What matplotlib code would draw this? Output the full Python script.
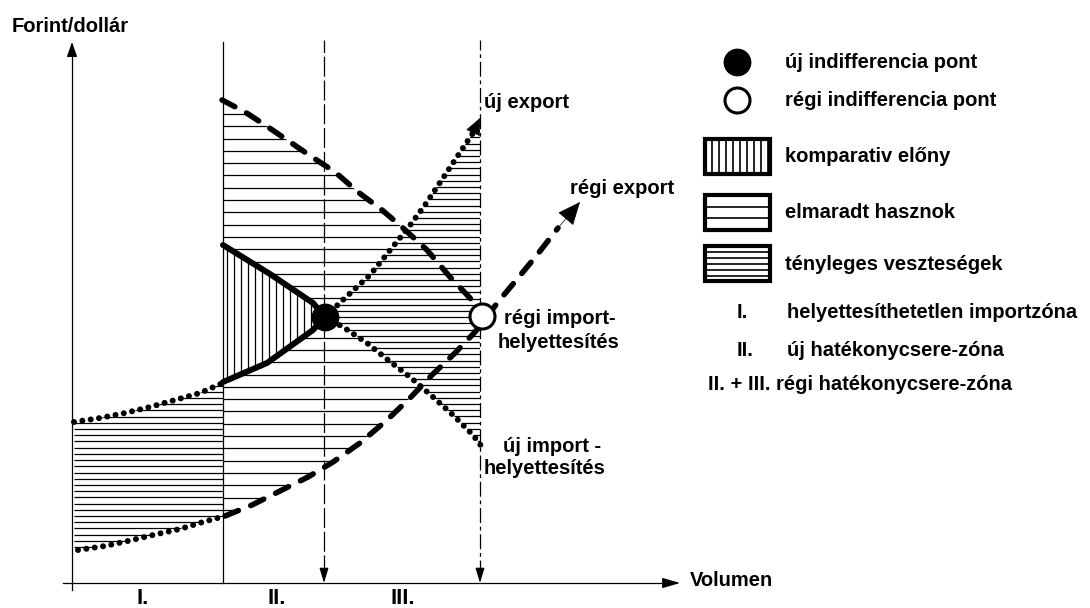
import numpy as np
import matplotlib
matplotlib.use('Agg')
import matplotlib.pyplot as plt
from matplotlib.patches import Polygon, Rectangle

plt.rcParams['font.family'] = ['Liberation Sans', 'DejaVu Sans']
plt.rcParams['font.weight'] = 'bold'

# ---------------- data (volume, forint/dollar) ----------------
zone_bounds = [151, 252, 408]            # start of II, start of III, end of III
zone_labels = ['I.', 'II.', 'III.']
zone_label_x = [71, 205, 331]

old_import_x = [150, 173, 196, 218, 240, 263, 286, 310, 331, 355, 378, 398, 410]
old_import_y = [483, 471, 456, 441, 426, 411, 391, 373, 355, 333, 306, 285, 269]

old_export_x = [153, 180, 210, 236, 261, 288, 315, 338, 360, 383, 403, 414, 426, 446, 465, 486, 508]
old_export_y = [67, 78, 93, 106, 121, 140, 163, 185, 208, 230, 251, 265, 281, 305, 328, 355, 381]

zone1_low_x = [6, 33, 56, 81, 108, 131, 153]
zone1_low_y = [33, 37, 42, 48, 54, 61, 67]
zone1_up_x = [2, 28, 53, 78, 103, 128, 153]
zone1_up_y = [161, 165, 170, 176, 183, 190, 201]

solid_up_x = [151, 198, 241, 253]
solid_up_y = [338, 309, 280, 266]
solid_low_x = [151, 195, 241, 253]
solid_low_y = [201, 220, 253, 266]

new_export_x = [253, 273, 298, 336, 353, 371, 401, 408]
new_export_y = [266, 285, 308, 355, 378, 405, 450, 465]
new_import_x = [253, 271, 295, 316, 338, 361, 381, 401, 410]
new_import_y = [266, 256, 240, 223, 206, 186, 168, 148, 136]

new_point = (253, 266)
old_point = (410, 267)

legend_labels = ['új indifferencia pont', 'régi indifferencia pont', 'komparativ előny',
                 'elmaradt hasznok', 'tényleges veszteségek',
                 'helyettesíthetetlen importzóna', 'új hatékonycsere-zóna',
                 'régi hatékonycsere-zóna']
legend_keys = ['I.', 'II.', 'II. + III.']

# ---------------- figure ----------------
fig = plt.figure(figsize=(10.9, 6.08), dpi=100)
ax = fig.add_axes([0, 0, 1, 1])
ax.set_xlim(-72, 1018)
ax.set_ylim(-25, 583)
ax.axis('off')

K = 'black'
FS = 14.5


def chain(*pairs):
    xs, ys = [], []
    for px, py in pairs:
        if xs and px[0] == xs[-1]:
            px, py = px[1:], py[1:]
        xs += list(px)
        ys += list(py)
    return np.array(xs, float), np.array(ys, float)


def f(xs_, ys_):
    return lambda x: np.interp(x, xs_, ys_)


oi = f(old_import_x, old_import_y)
oe = f(old_export_x, old_export_y)
upper_chain = f(*chain((solid_up_x, solid_up_y), (new_export_x, new_export_y)))
lower_chain = f(*chain((solid_low_x, solid_low_y), (new_import_x, new_import_y)))
z1u = f(zone1_up_x, zone1_up_y)
z1l = f(zone1_low_x, zone1_low_y)
ne = f(new_export_x, new_export_y)
ni = f(new_import_x, new_import_y)
su = f(solid_up_x, solid_up_y)
sl = f(solid_low_x, solid_low_y)


def crossing(a, b, x0, x1):
    xs = np.linspace(x0, x1, 4000)
    d = a(xs) - b(xs)
    return xs[np.argmax(d <= 0)]


def region(x0, x1, top, bot):
    xs = np.linspace(x0, x1, 300)
    pts = np.column_stack([np.r_[xs, xs[::-1]], np.r_[top(xs), bot(xs)[::-1]]])
    p = Polygon(pts, closed=True, facecolor='none', edgecolor='none')
    ax.add_patch(p)
    return p, pts


def hhatch(x0, x1, top, bot, step, lw=0.9):
    p, pts = region(x0, x1, top, bot)
    ys = np.arange(pts[:, 1].min() + step / 2, pts[:, 1].max(), step)
    lc = ax.hlines(ys, x0, x1, colors=K, lw=lw)
    lc.set_clip_path(p)


def vhatch(x0, x1, top, bot, step, lw=0.9):
    p, pts = region(x0, x1, top, bot)
    xs = np.arange(x0 + step / 2, x1, step)
    lc = ax.vlines(xs, pts[:, 1].min(), pts[:, 1].max(), colors=K, lw=lw)
    lc.set_clip_path(p)


xII, xIII, xEnd = zone_bounds
xc1 = crossing(oi, upper_chain, xII, xEnd)
xc2 = crossing(lower_chain, oe, xII, xEnd)

# hatched areas
hhatch(zone1_up_x[0], xII, z1u, z1l, 6.2)            # zone I, actual losses
hhatch(xII, xc1, oi, upper_chain, 12.3)               # forgone profits, upper
hhatch(xII, xc2, lower_chain, oe, 12.3)               # forgone profits, lower
hhatch(xIII, xEnd, ne, ni, 6.2)                       # zone III, actual losses
vhatch(xII, xIII, su, sl, 7.0)                        # comparative advantage

# axes
ax.plot([0, 0], [-7, 533], color=K, lw=0.9)
ax.annotate('', xy=(0, 541), xytext=(0, 530),
            arrowprops=dict(arrowstyle='-|>,head_length=1.0,head_width=0.35',
                            mutation_scale=9, color=K, lw=0.9, shrinkA=0, shrinkB=0))
ax.plot([-9, 600], [0, 0], color=K, lw=0.9)
ax.annotate('', xy=(608, 0), xytext=(596, 0),
            arrowprops=dict(arrowstyle='-|>,head_length=1.2,head_width=0.35',
                            mutation_scale=9, color=K, lw=0.9, shrinkA=0, shrinkB=0))

# zone boundaries
ax.plot([xII, xII], [0, 541], color=K, lw=0.9)
ax.plot([xIII, xIII], [8, 543], color=K, lw=0.9, linestyle=(0, (16, 3)))
ax.plot([xEnd, xEnd], [8, 543], color=K, lw=0.9, linestyle=(0, (12, 3, 3, 3)))
for xv in (xIII, xEnd):
    ax.annotate('', xy=(xv, 0), xytext=(xv, 12),
                arrowprops=dict(arrowstyle='-|>,head_length=1.0,head_width=0.3',
                                mutation_scale=9, color=K, lw=0.9, shrinkA=0, shrinkB=0))

# curves
DOT = dict(color=K, lw=4.3, linestyle=(0, (0.01, 1.4)), dash_capstyle='round')
DASH = dict(color=K, lw=4.0, linestyle=(0, (2.6, 2.4)), dash_capstyle='round')
SOLID = dict(color=K, lw=4.3, solid_capstyle='round')

ax.plot(zone1_low_x, zone1_low_y, **DOT)
ax.plot(zone1_up_x, zone1_up_y, **DOT)
ax.plot(old_import_x, old_import_y, **DASH)
ax.plot(old_export_x[:-1], old_export_y[:-1], **DASH)
ax.plot(solid_up_x, solid_up_y, **SOLID)
ax.plot(solid_low_x, solid_low_y, **SOLID)
ax.plot(new_export_x[:-1], new_export_y[:-1], **DOT)
ax.plot(new_import_x, new_import_y, **DOT)

ax.annotate('', xy=(new_export_x[-1], new_export_y[-1]),
            xytext=(new_export_x[-2], new_export_y[-2]),
            arrowprops=dict(arrowstyle='-|>,head_length=1.1,head_width=0.5',
                            mutation_scale=10, color=K, lw=0.5, shrinkA=0, shrinkB=0))
ax.annotate('', xy=(old_export_x[-1], old_export_y[-1]),
            xytext=(old_export_x[-2], old_export_y[-2]),
            arrowprops=dict(arrowstyle='-|>,head_length=1.5,head_width=0.65',
                            mutation_scale=10, color=K, lw=0.5, shrinkA=0, shrinkB=0))

# indifference points
ax.plot(*new_point, 'o', ms=19, color=K, zorder=5)
ax.plot(*old_point, 'o', ms=18, mfc='white', mec=K, mew=2.2, zorder=5)

# curve and axis labels
ax.text(-60, 557, 'Forint/dollár', fontsize=FS, va='center', ha='left')
ax.text(618, 3, 'Volumen', fontsize=FS, va='center', ha='left')
ax.text(412, 480, 'új export', fontsize=FS, va='center', ha='left')
ax.text(498, 395, 'régi export', fontsize=FS, va='center', ha='left')
ax.text(488, 264, 'régi import-', fontsize=FS, va='center', ha='center')
ax.text(487, 240, 'helyettesítés', fontsize=FS, va='center', ha='center')
ax.text(480, 136, 'új import -', fontsize=FS, va='center', ha='center')
ax.text(473, 115, 'helyettesítés', fontsize=FS, va='center', ha='center')
for lab, lx in zip(zone_labels, zone_label_x):
    ax.text(lx, -16, lab, fontsize=16, va='center', ha='center', fontweight='bold')

# legend
LX = 665
row_y = [521, 483, 426, 370, 319, 270, 233, 198]
ax.plot(LX, row_y[0], 'o', ms=19, color=K)
ax.plot(LX, row_y[1], 'o', ms=18, mfc='white', mec=K, mew=2.2)
for i, yc in enumerate(row_y[2:5]):
    ax.add_patch(Rectangle((LX - 32, yc - 17), 65, 35, fill=False, lw=3, edgecolor=K))
    if i == 0:
        ax.vlines(np.arange(LX - 25, LX + 32, 7), yc - 17, yc + 18, colors=K, lw=1.2)
    elif i == 1:
        ax.hlines([yc - 5, yc + 6], LX - 32, LX + 33, colors=K, lw=1.2)
    else:
        ax.hlines(np.arange(yc - 12, yc + 13, 6), LX - 32, LX + 33, colors=K, lw=1.2)

text_x = [713, 713, 713, 713, 713, 715, 715, 704]
for lab, tx, ty in zip(legend_labels, text_x, row_y):
    ax.text(tx, ty, lab, fontsize=FS, va='center', ha='left')
ax.text(LX, row_y[5], legend_keys[0], fontsize=FS, va='center', ha='left')
ax.text(LX, row_y[6], legend_keys[1], fontsize=FS, va='center', ha='left')
ax.text(698, row_y[7], legend_keys[2], fontsize=FS, va='center', ha='right')

fig.savefig('out.png', dpi=100)
